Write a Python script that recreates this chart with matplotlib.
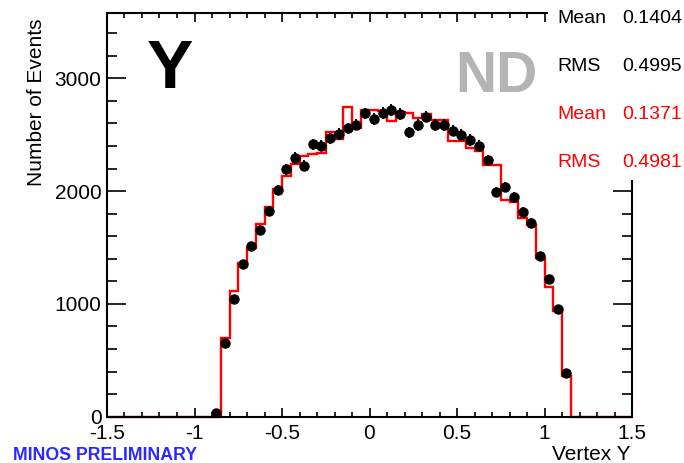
import numpy as np
import matplotlib
matplotlib.use("Agg")
import matplotlib.pyplot as plt
from matplotlib.patches import Rectangle
from matplotlib.ticker import MultipleLocator, FuncFormatter

plt.rcParams['font.family'] = ['Liberation Sans', 'DejaVu Sans']
plt.rcParams['axes.unicode_minus'] = False

# 60 bins of width 0.05 between -1.5 and 1.5
bin_edges = np.linspace(-1.5, 1.5, 61)

# MC (red histogram), one value per bin
mc_counts = [0] * 13 + [
    695, 1114, 1360, 1493, 1708, 1856, 2016, 2130, 2240, 2312,
    2325, 2340, 2527, 2460, 2748, 2560, 2715, 2715, 2710, 2622,
    2705, 2690, 2650, 2680, 2630, 2630, 2447, 2447, 2379, 2355,
    2231, 2231, 1921, 1906, 1760, 1700, 1404, 1152, 937, 363,
] + [0] * 7

# data points, bins 12..52 (centres -0.875 .. 1.125)
data_first_bin = 12
data_counts = [
    35, 656, 1041, 1352, 1513, 1655, 1824, 2010, 2193, 2296,
    2225, 2415, 2400, 2468, 2506, 2557, 2590, 2688, 2637, 2690,
    2719, 2681, 2521, 2586, 2660, 2586, 2586, 2535, 2497, 2453,
    2400, 2276, 1995, 2039, 1950, 1817, 1720, 1425, 1221, 955, 390,
]

stats_data = [("Mean", "0.1404"), ("RMS", "0.4995")]
stats_mc = [("Mean", "0.1371"), ("RMS", "0.4981")]

W, H = 684, 463
fig = plt.figure(figsize=(W / 100, H / 100), dpi=100)
ax = fig.add_axes([107 / W, 1 - 416.7 / H, (632 - 107) / W, (416.7 - 13.3) / H])

centres = 0.5 * (bin_edges[:-1] + bin_edges[1:])
dx = centres[data_first_bin:data_first_bin + len(data_counts)]
dy = np.array(data_counts, dtype=float)

ax.stairs(mc_counts, bin_edges, color="red", lw=1.7, zorder=2, clip_on=False)
ax.errorbar(dx, dy, yerr=np.sqrt(dy), fmt="o", color="black", ms=6.5,
            elinewidth=1.4, capsize=0, zorder=3)

ax.set_xlim(-1.5, 1.5)
ax.set_ylim(0, 3576)
ax.xaxis.set_major_locator(MultipleLocator(0.5))
ax.xaxis.set_minor_locator(MultipleLocator(0.1))
ax.yaxis.set_major_locator(MultipleLocator(1000))
ax.yaxis.set_minor_locator(MultipleLocator(200))
ax.xaxis.set_major_formatter(FuncFormatter(lambda v, p: "%g" % v))

for s in ax.spines.values():
    s.set_linewidth(1.5)
ax.tick_params(which="both", direction="in", top=True, right=True,
               labelsize=15, width=1.2)
ax.tick_params(axis="x", which="major", length=6.5, pad=5)
ax.tick_params(axis="x", which="minor", length=3.5)
ax.tick_params(axis="y", which="major", length=13.5, pad=4)
ax.tick_params(axis="y", which="minor", length=7.5)

# white stats box covering the top right corner of the frame
fig.add_artist(Rectangle((548 / W, 1 - 180 / H), 1 - 548 / W, 180 / H,
                         transform=fig.transFigure, facecolor="white",
                         edgecolor="none", zorder=10))

rows = [(22.7, stats_data[0], "black"), (70.7, stats_data[1], "black"),
        (119.3, stats_mc[0], "red"), (166.7, stats_mc[1], "red")]
for base, (name, val), col in rows:
    fig.text(557 / W, 1 - base / H, name, fontsize=14, color=col,
             va="baseline", ha="left", zorder=11)
    fig.text(682 / W, 1 - base / H, val, fontsize=14, color=col,
             va="baseline", ha="right", zorder=11)

fig.text(147 / W, 1 - 88 / H, "Y", fontsize=50, fontweight="bold",
         va="baseline", ha="left")
fig.text(455 / W, 1 - 92 / H, "ND", fontsize=41, fontweight="bold",
         color="#b4b4b4", va="baseline", ha="left")

fig.text(37 / W, 1 - 102 / H, "Number of Events", rotation=90, fontsize=15,
         ha="center", va="center")
fig.text(630 / W, 1 - 460 / H, "Vertex Y", fontsize=15, ha="right",
         va="baseline")
fig.text(13 / W, 1 - 460 / H, "MINOS PRELIMINARY", fontsize=12.8,
         fontweight="bold", color="#2a2aff", ha="left", va="baseline")

fig.savefig("out.png", dpi=100)
